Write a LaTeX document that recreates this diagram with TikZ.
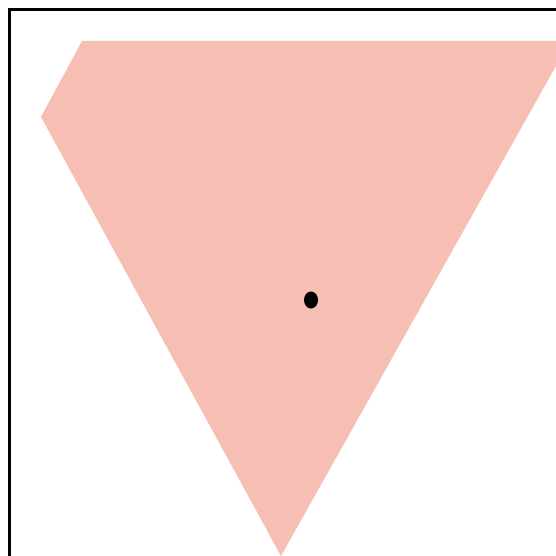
\documentclass[tikz,border=0pt]{standalone}
\usetikzlibrary{shapes.geometric}
\definecolor{salmonpink}{RGB}{247,191,179}
\begin{document}
\begin{tikzpicture}[x=1pt,y=-1pt,
  shapefill/.style={fill=salmonpink,draw=none},
  framestyle/.style={draw=black,line width=2.2pt},
  dotstyle/.style={fill=black}]
\useasboundingbox (0,0) rectangle (556,556);
\clip (0,0) rectangle (556,556);
\fill[white] (0,0) rectangle (556,556);
\path[shapefill] (82,41) -- (570,41) -- (281,556) -- (41,117) -- cycle;
\draw[framestyle] (9.5,600) -- (9.5,9.5) -- (600,9.5);
\node[dotstyle,ellipse,minimum width=14pt,minimum height=17pt,inner sep=0pt] (dot) at (311,300) {};
\end{tikzpicture}
\end{document}
